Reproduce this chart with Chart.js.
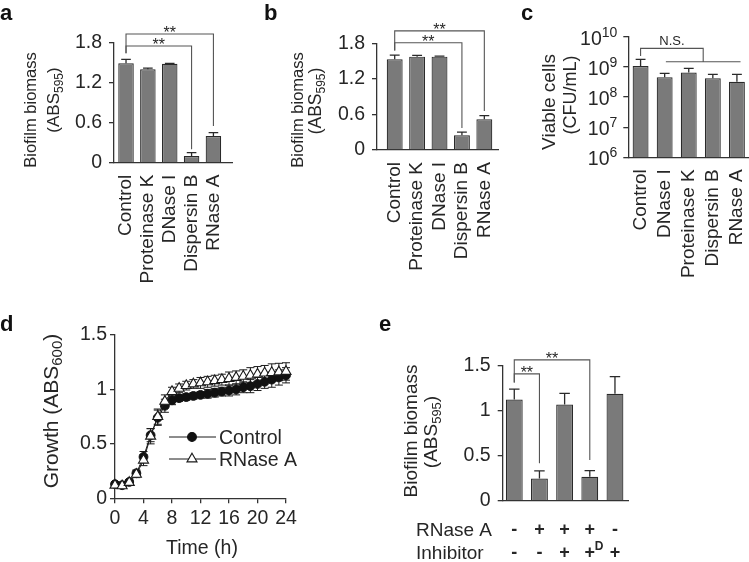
<!DOCTYPE html>
<html><head><meta charset="utf-8">
<script src="https://cdn.jsdelivr.net/npm/chart.js@4/dist/chart.umd.min.js"></script>
<style>
html,body{margin:0;padding:0;background:#fff;}
#wrap{position:relative;width:749px;height:562px;overflow:hidden;background:#fff;}
#wrap canvas{position:absolute;left:0;top:0;}
.pl{position:absolute;font:bold 22px "Liberation Sans",Arial,sans-serif;line-height:22px;color:#111;}
</style></head><body>
<div id="wrap">
<canvas id="cA" width="749" height="562"></canvas>
<canvas id="cB" width="749" height="562"></canvas>
<canvas id="cC" width="749" height="562"></canvas>
<canvas id="cD" width="749" height="562"></canvas>
<canvas id="cE" width="749" height="562"></canvas>
<div class="pl" style="left:0px;top:2px">a</div>
<div class="pl" style="left:264px;top:2px">b</div>
<div class="pl" style="left:521px;top:2px">c</div>
<div class="pl" style="left:0px;top:313px">d</div>
<div class="pl" style="left:379px;top:313px">e</div>
</div>
<script>
// ---------------- DATA ----------------
const catsA = ['Control', 'Proteinase K', 'DNase I', 'Dispersin B', 'RNase A'];
const valsA = [1.49, 1.40, 1.485, 0.10, 0.40];
const errA  = [0.06, 0.02, 0.005, 0.05, 0.05];
const yTicksA = [0, 0.6, 1.2, 1.8];

const catsB = ['Control', 'Proteinase K', 'DNase I', 'Dispersin B', 'RNase A'];
const valsB = [1.53, 1.575, 1.575, 0.25, 0.52];
const errB  = [0.07, 0.02, 0.01, 0.05, 0.06];
const yTicksB = [0, 0.6, 1.2, 1.8];

const catsC = ['Control', 'DNase I', 'Proteinase K', 'Dispersin B', 'RNase A'];
const valsC = [1.07e9, 4.5e8, 6.5e8, 4.2e8, 3.2e8];
const errC  = [7.1e8, 1.6e8, 2.4e8, 1.4e8, 2.4e8];
const yTicksC = [1e6, 1e7, 1e8, 1e9, 1e10];

const timeD = [0,1,2,3,4,5,6,7,8,9,10,11,12,13,14,15,16,17,18,19,20,21,22,23,24];
const ctrlD    = [0.13,0.12,0.15,0.23,0.38,0.58,0.74,0.85,0.90,0.92,0.93,0.94,0.95,0.96,0.97,0.98,0.99,1.00,1.02,1.03,1.05,1.07,1.09,1.11,1.13];
const ctrlErrD = [0.02,0.02,0.02,0.03,0.05,0.06,0.07,0.06,0.04,0.03,0.03,0.03,0.03,0.04,0.04,0.04,0.05,0.05,0.05,0.06,0.06,0.06,0.07,0.07,0.07];
const rnaseD    = [0.12,0.115,0.145,0.22,0.35,0.57,0.75,0.89,0.98,1.01,1.035,1.05,1.06,1.07,1.08,1.09,1.10,1.11,1.12,1.13,1.14,1.15,1.155,1.16,1.165];
const rnaseErrD = [0.02,0.02,0.02,0.03,0.05,0.07,0.07,0.06,0.04,0.04,0.04,0.04,0.05,0.05,0.05,0.05,0.06,0.06,0.06,0.07,0.07,0.07,0.08,0.08,0.08];
const xTicksD = [0, 4, 8, 12, 16, 20, 24];
const yTicksD = [0, 0.5, 1, 1.5];

const valsE = [1.12, 0.245, 1.065, 0.265, 1.185];
const errE  = [0.115, 0.085, 0.125, 0.068, 0.19];
const yTicksE = [0, 0.5, 1, 1.5];
const rnaseRowE = ['-', '+', '+', '+', '-'];
const inhibRowE = ['-', '-', '+', '+', '+'];
const inhibSupE = ['', '', '', 'D', ''];

// ---------------- STYLE ----------------
const FONT = '"Liberation Sans", Arial, Helvetica, sans-serif';
const TXT = '#262626';
const AX = '#333333';
const BAR = '#7a7a7a';
const EDGE = '#2a2a2a';
const BRK = '#555555';
Chart.defaults.font.family = FONT;

function drawRich(ctx, parts, x, y, size, rot, align) {
  ctx.save();
  ctx.translate(x, y);
  ctx.rotate(rot || 0);
  ctx.fillStyle = TXT;
  ctx.textBaseline = 'alphabetic';
  ctx.textAlign = 'left';
  const fonts = parts.map(p => (p[2] ? 'bold ' : '') + (p[1] === 0 ? size : Math.round(size * 0.7)) + 'px ' + FONT);
  let total = 0;
  const ws = parts.map((p, i) => { ctx.font = fonts[i]; const w = ctx.measureText(p[0]).width; total += w; return w; });
  let cx = align === 'right' ? -total : align === 'left' ? 0 : -total / 2;
  parts.forEach((p, i) => {
    ctx.font = fonts[i];
    const dy = p[1] === -1 ? size * 0.22 : p[1] === 1 ? -size * 0.42 : 0;
    ctx.fillText(p[0], cx, size * 0.36 + dy);
    cx += ws[i];
  });
  ctx.restore();
}

const titlesPlugin = list => ({ id: 'titles', afterDraw(chart) {
  list.forEach(t => drawRich(chart.ctx, t.parts, t.x, t.y, t.size, t.rot, t.align));
}});

const barErr = { id: 'barErr', afterDatasetsDraw(chart) {
  const ctx = chart.ctx, ys = chart.scales.y;
  chart.data.datasets.forEach((ds, di) => {
    chart.getDatasetMeta(di).data.forEach((bar, i) => {
      const top = ys.getPixelForValue(ds.data[i].y + ds.errs[i]);
      const w = bar.width * 0.62;
      ctx.save();
      ctx.strokeStyle = EDGE; ctx.lineWidth = 1.3;
      ctx.beginPath();
      ctx.moveTo(bar.x, bar.y); ctx.lineTo(bar.x, top);
      ctx.moveTo(bar.x - w / 2, top); ctx.lineTo(bar.x + w / 2, top);
      ctx.stroke();
      ctx.restore();
    });
  });
}};

const bracketPlugin = list => ({ id: 'brackets', afterDraw(chart) {
  const ctx = chart.ctx, xs = chart.scales.x, ys = chart.scales.y;
  ctx.save();
  ctx.strokeStyle = BRK; ctx.lineWidth = 1.1; ctx.fillStyle = TXT;
  list.forEach(b => {
    const x1 = xs.getPixelForValue(b.from), x2 = xs.getPixelForValue(b.to);
    const y = ys.getPixelForValue(b.y), yl = ys.getPixelForValue(b.yl), yr = ys.getPixelForValue(b.yr);
    ctx.beginPath();
    ctx.moveTo(x1, yl); ctx.lineTo(x1, y); ctx.lineTo(x2, y); ctx.lineTo(x2, yr);
    if (b.group) {
      ctx.moveTo(xs.getPixelForValue(b.group[0]), yr);
      ctx.lineTo(xs.getPixelForValue(b.group[1]), yr);
    }
    ctx.stroke();
    ctx.font = b.font + 'px ' + FONT;
    ctx.textAlign = 'center';
    ctx.textBaseline = 'alphabetic';
    ctx.fillText(b.text, (x1 + x2) / 2, y + b.dy);
  });
  ctx.restore();
}});

// nudge layout padding so that the plot area lands on the wanted box
function fitArea(ch, o) {
  for (let k = 0; k < 3; k++) {
    const ca = ch.chartArea, p = ch.options.layout.padding;
    const dl = o.L - ca.left, dr = ca.right - o.R, dt = o.T - ca.top, db = ca.bottom - o.B;
    if (Math.abs(dl) + Math.abs(dr) + Math.abs(dt) + Math.abs(db) < 0.2) break;
    p.left += dl; p.right += dr; p.top += dt; p.bottom += db;
    ch.update();
  }
}

function barChart(id, o) {
  const YW = 60, XH = o.xh;
  const ch = new Chart(document.getElementById(id), {
    type: 'bar',
    data: { datasets: [{
      data: o.vals.map((v, i) => ({ x: i, y: v })), errs: o.errs,
      backgroundColor: BAR, borderColor: EDGE, borderWidth: 1.2,
      barPercentage: o.bp, categoryPercentage: 1
    }]},
    options: {
      responsive: false, animation: false, events: [], devicePixelRatio: 1,
      layout: { padding: { left: o.L - YW, right: 749 - o.R, top: o.T, bottom: 562 - o.B - XH } },
      plugins: { legend: { display: false }, tooltip: { enabled: false } },
      scales: {
        x: {
          type: 'linear', min: o.xmin, max: o.xmax, offset: false,
          grid: { display: false, drawTicks: false, offset: false },
          border: { display: true, color: AX, width: 1.3 },
          afterBuildTicks: s => { s.ticks = o.vals.map((_, i) => ({ value: i })); },
          ticks: { display: !!o.cats, autoSkip: false, minRotation: 90, maxRotation: 90,
                   padding: o.catPad || 12, color: TXT, font: { size: o.catSize || 19 },
                   callback: v => (o.cats ? o.cats[v] : '') },
          afterFit: s => { s.height = XH; s.paddingLeft = 0; s.paddingRight = 0; }
        },
        y: {
          type: o.log ? 'logarithmic' : 'linear', min: o.ymin, max: o.ymax,
          afterBuildTicks: s => { s.ticks = o.yticks.map(v => ({ value: v })); },
          grid: { drawOnChartArea: false, drawTicks: true, tickLength: 5, color: AX, lineWidth: 1.3 },
          border: { display: true, color: AX, width: 1.3 },
          ticks: { color: TXT, padding: o.yPad, font: { size: o.ySize || 19.5 },
                   callback: o.log ? (() => '') : (v => String(v)) },
          afterFit: s => { s.width = YW; }
        }
      }
    },
    plugins: [barErr, bracketPlugin(o.sig || []), titlesPlugin(o.titles || [])].concat(o.extra || [])
  });
  fitArea(ch, o);
  return ch;
}

// ---------- Panel a ----------
barChart('cA', {
  vals: valsA, errs: errA, cats: catsA, yticks: yTicksA, ymin: 0, ymax: 1.8,
  L: 114, R: 232, T: 42.7, B: 162.7, xmin: -0.55, xmax: 4.85, bp: 0.71, xh: 140, yPad: 7,
  sig: [
    { from: 0, to: 4, y: 1.93, yl: 1.64, yr: 0.55, text: '**', font: 16, dy: 4 },
    { from: 0, to: 3, y: 1.75, yl: 1.64, yr: 0.20, text: '**', font: 16, dy: 4 }
  ],
  titles: [
    { parts: [['Biofilm biomass', 0]], x: 30, y: 110, size: 16.5, rot: -Math.PI / 2 },
    { parts: [['(ABS', 0], ['595', -1], [')', 0]], x: 53, y: 100, size: 17, rot: -Math.PI / 2 }
  ]
});

// ---------- Panel b ----------
barChart('cB', {
  vals: valsB, errs: errB, cats: catsB, yticks: yTicksB, ymin: 0, ymax: 1.8,
  L: 377, R: 498, T: 43.3, B: 150, xmin: -0.79, xmax: 4.61, bp: 0.71, xh: 140, yPad: 7,
  sig: [
    { from: 0, to: 4, y: 2.01, yl: 1.68, yr: 0.66, text: '**', font: 16, dy: 4 },
    { from: 0, to: 3, y: 1.81, yl: 1.68, yr: 0.37, text: '**', font: 16, dy: 4 }
  ],
  titles: [
    { parts: [['Biofilm biomass', 0]], x: 297, y: 110, size: 16.5, rot: -Math.PI / 2 },
    { parts: [['(ABS', 0], ['595', -1], [')', 0]], x: 315, y: 101, size: 17.5, rot: -Math.PI / 2 }
  ]
});

// ---------- Panel c ----------
const logLabels = { id: 'logLabels', afterDraw(chart) {
  const ys = chart.scales.y, x = chart.chartArea.left - 5 - 6;
  yTicksC.forEach(v => {
    const e = Math.round(Math.log10(v));
    drawRich(chart.ctx, [['10', 0], [String(e), 1]], x, ys.getPixelForValue(v) + 1, 19.5, 0, 'right');
  });
}};
barChart('cC', {
  vals: valsC, errs: errC, cats: catsC, yticks: yTicksC, ymin: 1e6, ymax: 1e10, log: true,
  L: 628.3, R: 748, T: 36.7, B: 157.3, xmin: -0.51, xmax: 4.46, bp: 0.66, xh: 140, yPad: 7,
  sig: [
    { from: 0, to: 2.6, y: 4.1e9, yl: 2.3e9, yr: 1.48e9, group: [1.05, 4.15], text: 'N.S.', font: 13, dy: -3 }
  ],
  titles: [
    { parts: [['Viable cells', 0]], x: 548, y: 102, size: 19, rot: -Math.PI / 2 },
    { parts: [['(CFU/mL)', 0]], x: 570, y: 95, size: 18, rot: -Math.PI / 2 }
  ],
  extra: [logLabels]
});

// ---------- Panel d ----------
const lineErr = { id: 'lineErr', beforeDatasetsDraw(chart) {
  const ctx = chart.ctx, ys = chart.scales.y;
  ctx.save();
  ctx.strokeStyle = '#1a1a1a'; ctx.lineWidth = 1;
  chart.data.datasets.forEach((ds, di) => {
    chart.getDatasetMeta(di).data.forEach((pt, i) => {
      const v = ds.data[i].y, e = ds.errs[i];
      const t = ys.getPixelForValue(v + e), b = ys.getPixelForValue(v - e);
      ctx.beginPath();
      ctx.moveTo(pt.x, t); ctx.lineTo(pt.x, b);
      ctx.moveTo(pt.x - 4, t); ctx.lineTo(pt.x + 4, t);
      ctx.moveTo(pt.x - 4, b); ctx.lineTo(pt.x + 4, b);
      ctx.stroke();
    });
  });
  ctx.restore();
}};
const legendD = { id: 'legendD', afterDraw(chart) {
  const ctx = chart.ctx;
  const rows = [chart.data.datasets[1], chart.data.datasets[0]];
  rows.forEach((ds, k) => {
    const y = 437 + k * 22;
    ctx.save();
    ctx.strokeStyle = '#1a1a1a'; ctx.lineWidth = 1;
    ctx.beginPath(); ctx.moveTo(169, y); ctx.lineTo(216, y); ctx.stroke();
    ctx.fillStyle = ds.pointBackgroundColor; ctx.strokeStyle = ds.pointBorderColor; ctx.lineWidth = 1.1;
    Chart.helpers.drawPoint(ctx, { pointStyle: ds.pointStyle, radius: ds.pointRadius, borderWidth: 1.1, rotation: 0 }, 192, y);
    ctx.restore();
    drawRich(ctx, [[ds.label, 0]], 219, y, 19.5, 0, 'left');
  });
}};
const chD = new Chart(document.getElementById('cD'), {
  type: 'line',
  data: { datasets: [
    { label: 'RNase A', data: timeD.map((t, i) => ({ x: t, y: rnaseD[i] })), errs: rnaseErrD,
      borderColor: '#1a1a1a', borderWidth: 1, pointStyle: 'triangle', pointRadius: 5.8,
      pointBackgroundColor: '#ffffff', pointBorderColor: '#1a1a1a', pointBorderWidth: 1.1, order: 0, clip: false },
    { label: 'Control', data: timeD.map((t, i) => ({ x: t, y: ctrlD[i] })), errs: ctrlErrD,
      borderColor: '#1a1a1a', borderWidth: 1, pointStyle: 'circle', pointRadius: 4.4,
      pointBackgroundColor: '#111111', pointBorderColor: '#111111', pointBorderWidth: 1, order: 1, clip: false }
  ]},
  options: {
    responsive: false, animation: false, events: [], devicePixelRatio: 1,
    layout: { padding: { left: 115 - 60, right: 749 - 286, top: 335, bottom: 562 - 498.3 - 40 } },
    plugins: { legend: { display: false }, tooltip: { enabled: false } },
    scales: {
      x: { type: 'linear', min: 0, max: 24,
           afterBuildTicks: s => { s.ticks = xTicksD.map(v => ({ value: v })); },
           grid: { drawOnChartArea: false, drawTicks: true, tickLength: 5, color: AX, lineWidth: 1.3 },
           border: { display: true, color: AX, width: 1.3 },
           ticks: { color: TXT, font: { size: 19.5 }, padding: 4, maxRotation: 0, autoSkip: false, callback: v => String(v) },
           afterFit: s => { s.height = 40; } },
      y: { type: 'linear', min: 0, max: 1.5,
           afterBuildTicks: s => { s.ticks = yTicksD.map(v => ({ value: v })); },
           grid: { drawOnChartArea: false, drawTicks: true, tickLength: 5, color: AX, lineWidth: 1.3 },
           border: { display: true, color: AX, width: 1.3 },
           ticks: { color: TXT, font: { size: 19.5 }, padding: 3, callback: v => String(v) },
           afterFit: s => { s.width = 60; } }
    }
  },
  plugins: [lineErr, legendD, titlesPlugin([
    { parts: [['Growth (ABS', 0], ['600', -1], [')', 0]], x: 50, y: 411, size: 21, rot: -Math.PI / 2 },
    { parts: [['Time (h)', 0]], x: 202, y: 547, size: 19.5, rot: 0 }
  ])]
});
fitArea(chD, { L: 115, R: 286, T: 335, B: 498.3 });

// ---------- Panel e ----------
const tableE = { id: 'tableE', afterDraw(chart) {
  const ctx = chart.ctx, xs = chart.scales.x;
  drawRich(ctx, [['RNase A', 0]], 416, 529, 19, 0, 'left');
  drawRich(ctx, [['Inhibitor', 0]], 416, 552, 19, 0, 'left');
  rnaseRowE.forEach((s, i) => drawRich(ctx, [[s, 0, true]], xs.getPixelForValue(i), 529, 18, 0, 'center'));
  inhibRowE.forEach((s, i) => {
    const x = xs.getPixelForValue(i);
    drawRich(ctx, [[s, 0, true]], x, 552, 18, 0, 'center');
    if (inhibSupE[i]) drawRich(ctx, [[inhibSupE[i], 0, true]], x + 5, 546, 12, 0, 'left');
  });
}};
barChart('cE', {
  vals: valsE, errs: errE, cats: null, yticks: yTicksE, ymin: 0, ymax: 1.5,
  L: 502.7, R: 628.3, T: 365.3, B: 500.7, xmin: -0.46, xmax: 4.53, bp: 0.67, xh: 10, yPad: 7,
  sig: [
    { from: 0, to: 3, y: 1.56, yl: 1.31, yr: 0.45, text: '**', font: 16, dy: 4 },
    { from: 0, to: 1, y: 1.405, yl: 1.31, yr: 0.415, text: '**', font: 16, dy: 4 }
  ],
  titles: [
    { parts: [['Biofilm biomass', 0]], x: 410, y: 431, size: 19, rot: -Math.PI / 2 },
    { parts: [['(ABS', 0], ['595', -1], [')', 0]], x: 430, y: 432, size: 19, rot: -Math.PI / 2 }
  ],
  extra: [tableE]
});
</script>
</body></html>
